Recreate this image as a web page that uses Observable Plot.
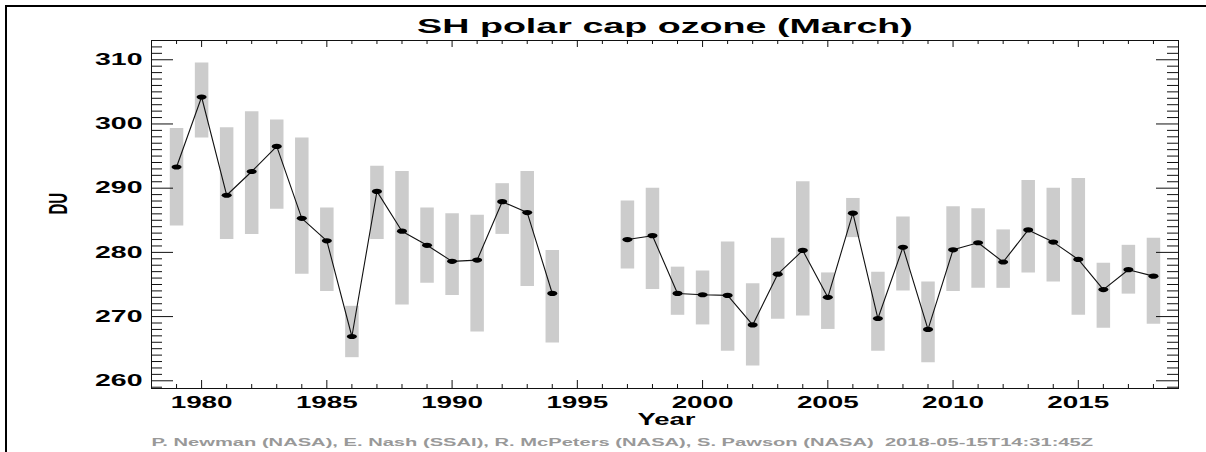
<!DOCTYPE html>
<html>
<head>
<meta charset="utf-8">
<script src="https://cdn.jsdelivr.net/npm/d3@7"></script>
<script src="https://cdn.jsdelivr.net/npm/@observablehq/plot@0.6"></script>
<style>
html, body { margin: 0; padding: 0; background: #fff; }
#wrap { position: relative; width: 1206px; height: 452px; overflow: hidden; background: #fff; }
#wrap svg { position: absolute; left: 0; top: 0; }
#border { position: absolute; left: 5px; top: 5px; width: 1300px; height: 600px;
  border-top: 2.5px solid #000; border-left: 2.5px solid #000; pointer-events: none; z-index: 2; }
</style>
</head>
<body>
<div id="wrap"><div id="border"></div></div>
<script>
// ---- data ----
const years = [1979,1980,1981,1982,1983,1984,1985,1986,1987,1988,1989,1990,1991,1992,1993,1994,1995,1996,1997,1998,
               1999,2000,2001,2002,2003,2004,2005,2006,2007,2008,2009,2010,2011,2012,2013,2014,2015,2016,2017,2018];
const ozone = [293.3,304.2,288.9,292.6,296.5,285.3,281.8,266.9,289.5,283.3,281.1,278.6,278.8,287.9,286.2,273.6,null,null,282.0,282.6,
               273.6,273.4,273.3,268.7,276.6,280.3,273.0,286.1,269.7,280.8,268.0,280.4,281.5,278.5,283.5,281.6,278.9,274.2,277.3,276.3];
const rangeLow = [284.1,297.8,282.0,282.8,286.7,276.6,273.9,263.6,282.0,271.8,275.2,273.3,267.6,282.8,274.7,265.9,null,null,277.4,274.2,
                  270.2,268.7,264.6,262.3,269.6,270.1,268.0,282.3,264.6,274.0,262.8,273.9,274.4,274.4,276.8,275.4,270.2,268.2,273.5,268.8];
const rangeHigh = [299.3,309.5,299.4,301.9,300.6,297.8,286.9,271.6,293.4,292.6,286.9,286.0,285.8,290.7,292.6,280.3,null,null,288.0,290.0,
                   277.7,277.1,281.6,275.1,282.2,291.0,276.8,288.4,276.9,285.5,275.4,287.1,286.8,283.5,291.2,290.0,291.5,278.3,281.1,282.2];
const xMajorTicks = [1980, 1985, 1990, 1995, 2000, 2005, 2010, 2015];
const xMinorTicks = [1979,1981,1982,1983,1984,1986,1987,1988,1989,1991,1992,1993,1994,1996,1997,1998,1999,
                     2001,2002,2003,2004,2006,2007,2008,2009,2011,2012,2013,2014,2016,2017,2018];
const yMajorTicks = [260, 270, 280, 290, 300, 310];
const yMinorTicks = [259,261,262,263,264,265,266,267,268,269,271,272,273,274,275,276,277,278,279,
                     281,282,283,284,285,286,287,288,289,291,292,293,294,295,296,297,298,299,
                     301,302,303,304,305,306,307,308,309,311,312];
const titleText = "SH polar cap ozone (March)";
const xLabel = "Year";
const yLabel = "DU";
const captionText = "P. Newman (NASA), E. Nash (SSAI), R. McPeters (NASA), S. Pawson (NASA)  2018-05-15T14:31:45Z";

// ---- layout ----
const W = 1206, H = 452;
const mL = 151, mR = 28, mT = 40, mB = 64;
const innerW = W - mL - mR, innerH = H - mT - mB;
const FONT = "'Liberation Sans', Arial, Helvetica, sans-serif";

const rows = years.map((year, i) => ({year, value: ozone[i], lo: rangeLow[i], hi: rangeHigh[i]}));

// ellipse-shaped marker (the reference is horizontally stretched)
const ellipse = {
  draw(ctx) {
    const rx = 5, ry = 2.6, k = 0.5523;
    ctx.moveTo(rx, 0);
    ctx.bezierCurveTo(rx, ry * k, rx * k, ry, 0, ry);
    ctx.bezierCurveTo(-rx * k, ry, -rx, ry * k, -rx, 0);
    ctx.bezierCurveTo(-rx, -ry * k, -rx * k, -ry, 0, -ry);
    ctx.bezierCurveTo(rx * k, -ry, rx, -ry * k, rx, 0);
    ctx.closePath();
  }
};

const plot = Plot.plot({
  width: W, height: H,
  marginLeft: mL, marginRight: mR, marginTop: mT, marginBottom: mB,
  style: {fontFamily: FONT, background: "white", color: "black", overflow: "visible"},
  x: {domain: [1978, 2019], axis: null},
  y: {domain: [258.8, 313], axis: null},
  marks: [
    Plot.ruleX(rows, {x: "year", y1: "lo", y2: "hi", stroke: "#cccccc", strokeWidth: 13.5}),
    Plot.line(rows, {x: "year", y: "value", stroke: "#111", strokeWidth: 1.1}),
    Plot.dot(rows, {x: "year", y: "value", symbol: ellipse, fill: "black", r: 3}),
    Plot.frame({stroke: "#111", strokeWidth: 1}),
    // inward ticks, all four sides
    Plot.tickX(xMinorTicks, {x: d => d, insetTop: innerH - 4, stroke: "#111"}),
    Plot.tickX(xMajorTicks, {x: d => d, insetTop: innerH - 8, stroke: "#111"}),
    Plot.tickX(xMinorTicks, {x: d => d, insetBottom: innerH - 4, stroke: "#111"}),
    Plot.tickX(xMajorTicks, {x: d => d, insetBottom: innerH - 7, stroke: "#111"}),
    Plot.tickY(yMinorTicks, {y: d => d, insetRight: innerW - 11, stroke: "#111"}),
    Plot.tickY(yMajorTicks, {y: d => d, insetRight: innerW - 22, stroke: "#111"}),
    Plot.tickY(yMinorTicks, {y: d => d, insetLeft: innerW - 11, stroke: "#111"}),
    Plot.tickY(yMajorTicks, {y: d => d, insetLeft: innerW - 22, stroke: "#111"}),
    // tick labels
    Plot.axisX({ticks: xMajorTicks, tickSize: 0, tickPadding: 8, tickFormat: d => String(d),
                fontSize: 16, fontWeight: "bold", label: null}),
    Plot.axisY({ticks: yMajorTicks, tickSize: 0, tickPadding: 9, tickFormat: d => String(d),
                fontSize: 16, fontWeight: "bold", label: null}),
    // labels, title, caption
    Plot.text([xLabel], {text: d => d, frameAnchor: "bottom", lineAnchor: "bottom", dy: 36, dx: 1.5,
                         fontSize: 17, fontWeight: "bold", fill: "black"}),
    Plot.text([yLabel], {text: d => d, frameAnchor: "left", rotate: -90, dx: -93,
                         fontSize: 15, fontWeight: "bold", fill: "black"}),
    Plot.text([titleText], {text: d => d, frameAnchor: "top", lineAnchor: "bottom", dy: -7.3,
                            fontSize: 20, fontWeight: "bold", fill: "black"}),
    Plot.text([captionText], {text: d => d, frameAnchor: "bottom-left", textAnchor: "start", lineAnchor: "bottom", dy: 57,
                              fontSize: 11, fontWeight: "bold", fill: "#999999"})
  ]
});

document.getElementById("wrap").prepend(plot);

// The reference image is stretched horizontally; stretch the text the same way.
const allTexts = Array.from(plot.querySelectorAll("text"));
function byContent(str) { return allTexts.filter(t => t.textContent === str); }
function addScale(t, sx, sy) {
  t.setAttribute("transform", (t.getAttribute("transform") || "") + ` scale(${sx},${sy})`);
}
function stretchTo(str, target) {
  byContent(str).forEach(t => {
    const len = t.getComputedTextLength();
    if (len > 0) addScale(t, target / len, 1);
  });
}
xMajorTicks.forEach(v => byContent(String(v)).forEach(t => addScale(t, 1.74, 1)));
yMajorTicks.forEach(v => byContent(String(v)).forEach(t => addScale(t, 1.78, 1)));
byContent(yLabel).forEach(t => addScale(t, 1, 1.75));
stretchTo(titleText, 496);
stretchTo(captionText, 942);
stretchTo(xLabel, 58);
</script>
</body>
</html>
